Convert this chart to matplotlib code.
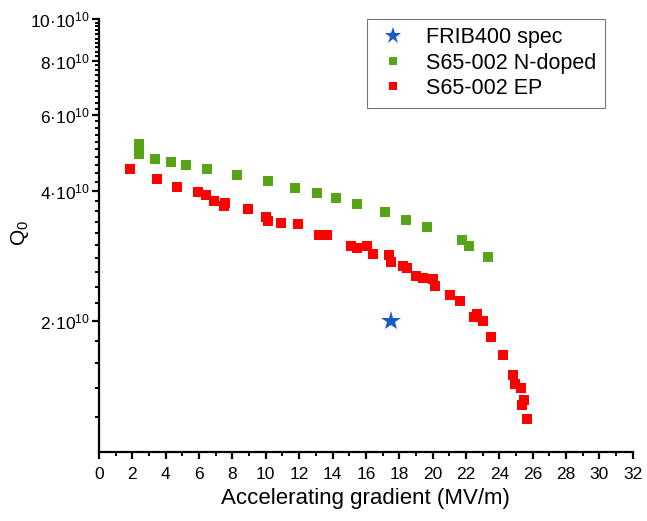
import numpy as np
import matplotlib
matplotlib.use("Agg")
import matplotlib.pyplot as plt
from matplotlib.ticker import FixedLocator, FixedFormatter, NullFormatter, MultipleLocator

plt.rcParams['font.family'] = ['Liberation Sans', 'DejaVu Sans']
plt.rcParams['mathtext.fontset'] = 'custom'
plt.rcParams['mathtext.rm'] = 'Liberation Sans'
plt.rcParams['mathtext.it'] = 'Liberation Sans:italic'

# данные (Q0 в единицах 1e10)
spec_x = [17.5]
spec_q = [2.0]

ndoped_x = [2.41, 2.41, 3.36, 4.30, 5.19, 6.50, 8.25, 10.14, 11.76, 13.08,
            14.18, 15.48, 17.12, 18.41, 19.69, 21.75, 22.19, 23.31]
ndoped_q = [5.13, 4.86, 4.74, 4.68, 4.60, 4.49, 4.35, 4.21, 4.07, 3.96,
            3.85, 3.73, 3.58, 3.42, 3.31, 3.09, 2.98, 2.82]

ep_x = [1.88, 3.49, 4.67, 5.95, 6.39, 6.87, 7.53, 7.49, 8.95, 9.99,
        10.11, 10.89, 11.91, 13.20, 13.64, 15.08, 15.44, 16.04, 16.43, 17.39,
        17.51, 18.23, 18.47, 19.01, 19.41, 20.01, 20.13, 21.03, 21.63, 22.47,
        22.69, 23.05, 23.53, 24.22, 24.82, 24.92, 25.27, 25.46, 25.34, 25.63]
ep_q = [4.49, 4.26, 4.09, 3.97, 3.92, 3.80, 3.75, 3.69, 3.63, 3.49,
        3.41, 3.37, 3.36, 3.17, 3.16, 2.99, 2.96, 2.99, 2.86, 2.84,
        2.74, 2.69, 2.66, 2.55, 2.52, 2.50, 2.41, 2.30, 2.23, 2.05,
        2.08, 2.00, 1.84, 1.67, 1.50, 1.43, 1.40, 1.32, 1.28, 1.19]

y_major = [2, 4, 6, 8, 10]
y_minor = [v / 10 for v in range(12, 100, 2) if v % 20 != 0]

fig = plt.figure(figsize=(6.47, 5.21), dpi=100)
ax = fig.add_axes([0.153, 0.133, 0.825, 0.831])

sc = 1e10
ax.plot(ep_x, np.array(ep_q) * sc, 's', color='#ff0000', markersize=6.5,
        markeredgewidth=0, label='S65-002 EP', zorder=3)
ax.plot(ndoped_x, np.array(ndoped_q) * sc, 's', color='#58a418', markersize=6.5,
        markeredgewidth=0, label='S65-002 N-doped', zorder=3)
ax.plot(spec_x, np.array(spec_q) * sc, '*', color='#1a5ac4', markersize=15,
        markeredgewidth=0, label='FRIB400 spec', zorder=4)

ax.set_yscale('log')
ax.set_ylim(1e10, 10e10)
ax.set_xlim(0, 32)

ax.yaxis.set_major_locator(FixedLocator([v * sc for v in y_major]))
ax.yaxis.set_major_formatter(FixedFormatter([f'{v}·$10^{{10}}$' for v in y_major]))
ax.yaxis.set_minor_locator(FixedLocator([v * sc for v in y_minor]))
ax.yaxis.set_minor_formatter(NullFormatter())

ax.xaxis.set_major_locator(MultipleLocator(2))
ax.xaxis.set_minor_locator(MultipleLocator(1))

for s in ['top', 'right']:
    ax.spines[s].set_visible(False)
for s in ['left', 'bottom']:
    ax.spines[s].set_linewidth(1.6)

ax.tick_params(which='major', direction='out', length=5, width=1.6, labelsize=12.5)
ax.tick_params(which='minor', direction='out', length=3, width=1.4)
ax.tick_params(axis='x', which='major', pad=6)
ax.tick_params(axis='y', which='major', pad=1.5)

ax.set_xlabel('Accelerating gradient (MV/m)', fontsize=16, labelpad=4)
ax.set_ylabel('Q$_0$', fontsize=15)
ax.yaxis.set_label_coords(-0.128, 0.505)

h, l = ax.get_legend_handles_labels()
leg = ax.legend(h[::-1], l[::-1], loc='upper right', bbox_to_anchor=(0.948, 1.0),
                borderaxespad=0, fontsize=15.5, frameon=True, fancybox=False,
                edgecolor='#555555', handlelength=1.6, handletextpad=0.75,
                borderpad=0.4, labelspacing=0.2, markerscale=0.85)
leg.get_frame().set_linewidth(0.8)

fig.savefig('out.png', dpi=100)
